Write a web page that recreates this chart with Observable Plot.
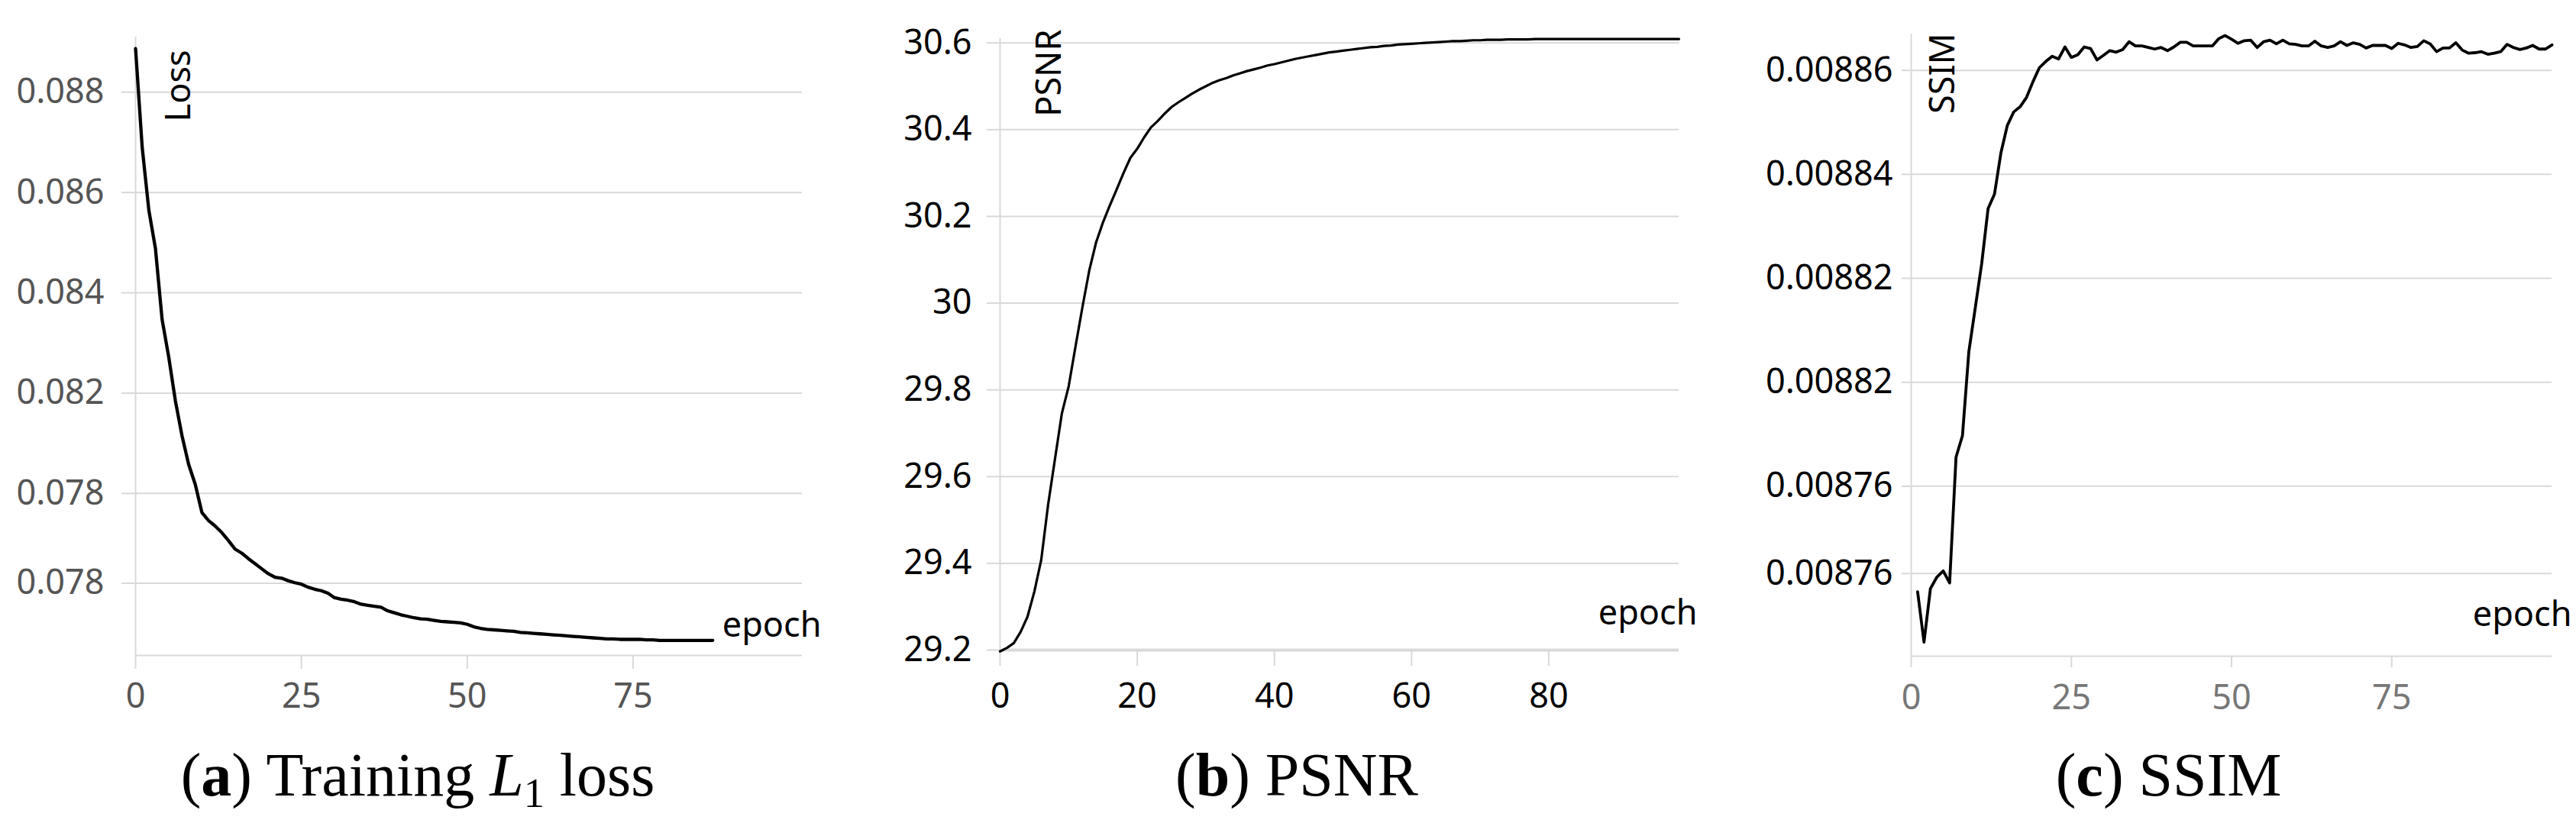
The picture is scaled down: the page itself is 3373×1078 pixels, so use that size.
<!DOCTYPE html>
<html>
<head>
<meta charset="utf-8">
<script src="https://cdn.jsdelivr.net/npm/d3@7"></script>
<script src="https://cdn.jsdelivr.net/npm/@observablehq/plot@0.6"></script>
<style>
html, body { margin: 0; padding: 0; background: #fff; }
#wrap { position: relative; width: 3373px; height: 1078px; overflow: hidden; background: #fff; }
.panel { position: absolute; top: 0; }
.panel svg { display: block; }
.cap { font-family: "Liberation Serif", "Times New Roman", serif; font-size: 80px; color: #000; text-align: center; white-space: nowrap; line-height: 78px; position: relative; margin-top: 16px; }
.cap sub { font-size: 0.68em; vertical-align: -0.28em; line-height: 0; }
</style>
</head>
<body>
<div id="wrap">
  <div class="panel" id="pa" style="left:0px;width:1124px"></div>
  <div class="panel" id="pb" style="left:1124px;width:1124px"></div>
  <div class="panel" id="pc" style="left:2248px;width:1125px"></div>
</div>
<script>
// ---------------- DATA ----------------
// (a) Training L1 loss, epochs 0..87
const lossValues = [
  0.08887, 0.08690, 0.08565, 0.08488, 0.08347, 0.08272, 0.08185, 0.08115, 0.08058, 0.08018,
  0.07962, 0.07946, 0.07935, 0.07922, 0.07906, 0.07889, 0.07881, 0.07870, 0.07860, 0.07850,
  0.07840, 0.07833, 0.07831, 0.07826, 0.07822, 0.07819, 0.07813, 0.07809, 0.07806, 0.07801,
  0.07792, 0.07789, 0.07787, 0.07784, 0.07779, 0.07777, 0.07775, 0.07773, 0.07766, 0.07762,
  0.07758, 0.07755, 0.07752, 0.07750, 0.07749, 0.07747, 0.07745, 0.07744, 0.07743, 0.07742,
  0.07739, 0.07734, 0.07731, 0.07729, 0.07728, 0.07727, 0.07726, 0.07725, 0.07723, 0.07722,
  0.07721, 0.07720, 0.07719, 0.07718, 0.07717, 0.07716, 0.07715, 0.07714, 0.07713, 0.07712,
  0.07711, 0.07710, 0.07710, 0.07709, 0.07709, 0.07709, 0.07709, 0.07708, 0.07708, 0.07707,
  0.07707, 0.07707, 0.07707, 0.07707, 0.07707, 0.07707, 0.07707, 0.07707
];
const lossFirstEpoch = 0;
const lossYTicks = [0.088, 0.086, 0.084, 0.082, 0.080, 0.07821];
const lossYTickLabels = ["0.088", "0.086", "0.084", "0.082", "0.078", "0.078"];
const lossXTicks = [0, 25, 50, 75];

// (b) PSNR, epochs 0..99
const psnrValues = [
  29.197, 29.205, 29.216, 29.242, 29.277, 29.335, 29.408, 29.535, 29.640, 29.745,
  29.808, 29.900, 29.990, 30.075, 30.140, 30.186, 30.225, 30.262, 30.300, 30.335,
  30.356, 30.382, 30.405, 30.420, 30.437, 30.452, 30.463, 30.473, 30.483, 30.492,
  30.500, 30.508, 30.514, 30.519, 30.525, 30.530, 30.535, 30.539, 30.543, 30.548,
  30.551, 30.555, 30.559, 30.563, 30.566, 30.569, 30.572, 30.575, 30.578, 30.580,
  30.582, 30.584, 30.586, 30.588, 30.590, 30.591, 30.593, 30.594, 30.596, 30.597,
  30.598, 30.599, 30.600, 30.601, 30.602, 30.603, 30.604, 30.604, 30.605, 30.606,
  30.606, 30.607, 30.607, 30.607, 30.608, 30.608, 30.608, 30.608, 30.609, 30.609,
  30.609, 30.609, 30.609, 30.609, 30.609, 30.609, 30.609, 30.609, 30.609, 30.609,
  30.609, 30.609, 30.609, 30.609, 30.609, 30.609, 30.609, 30.609, 30.609, 30.609
];
const psnrFirstEpoch = 0;
const psnrYTicks = [29.2, 29.4, 29.6, 29.8, 30, 30.2, 30.4, 30.6];
const psnrYTickLabels = ["29.2", "29.4", "29.6", "29.8", "30", "30.2", "30.4", "30.6"];
const psnrXTicks = [0, 20, 40, 60, 80];

// (c) SSIM, epochs 1..100
const ssimValues = [
  0.0087597, 0.0087500, 0.0087603, 0.0087625, 0.0087637, 0.0087614, 0.0087856, 0.0087897, 0.0088059, 0.0088143,
  0.0088228, 0.0088334, 0.0088362, 0.0088441, 0.0088494, 0.0088520, 0.0088530, 0.0088548, 0.0088578, 0.0088605,
  0.0088617, 0.0088627, 0.0088622, 0.0088645, 0.0088625, 0.0088630, 0.0088645, 0.0088642, 0.0088620, 0.0088629,
  0.0088638, 0.0088635, 0.0088640, 0.0088655, 0.0088647, 0.0088647, 0.0088644, 0.0088641, 0.0088644, 0.0088638,
  0.0088645, 0.0088654, 0.0088654, 0.0088647, 0.0088647, 0.0088647, 0.0088647, 0.0088661, 0.0088667, 0.0088660,
  0.0088652, 0.0088657, 0.0088658, 0.0088644, 0.0088655, 0.0088658, 0.0088651, 0.0088658, 0.0088651, 0.0088650,
  0.0088647, 0.0088647, 0.0088656, 0.0088647, 0.0088644, 0.0088647, 0.0088655, 0.0088648, 0.0088653, 0.0088650,
  0.0088643, 0.0088648, 0.0088648, 0.0088648, 0.0088642, 0.0088652, 0.0088649, 0.0088644, 0.0088646, 0.0088657,
  0.0088651, 0.0088636, 0.0088643, 0.0088643, 0.0088653, 0.0088639, 0.0088633, 0.0088634, 0.0088636, 0.0088631,
  0.0088633, 0.0088636, 0.0088650, 0.0088644, 0.0088640, 0.0088643, 0.0088648, 0.0088641, 0.0088641, 0.0088649
];
const ssimFirstEpoch = 1;
const ssimYTicks = [0.00886, 0.00884, 0.00882, 0.00880, 0.00878, 0.0087632];
const ssimYTickLabels = ["0.00886", "0.00884", "0.00882", "0.00882", "0.00876", "0.00876"];
const ssimXTicks = [0, 25, 50, 75];

// ---------------- DRAWING ----------------
const GRID = "#d9d9d9";
const H = 960;

function toRows(values, first) {
  return values.map((v, i) => ({ epoch: first + i, value: v }));
}

function panel(cfg) {
  const labelMap = new Map(cfg.yTicks.map((t, i) => [t, cfg.yTickLabels[i]]));
  return Plot.plot({
    width: cfg.width,
    height: H,
    marginLeft: cfg.ml,
    marginRight: cfg.mr,
    marginTop: cfg.mt,
    marginBottom: H - cfg.axisPos,
    x: { domain: cfg.xDomain },
    y: { domain: cfg.yDomain },
    style: { fontFamily: '"Noto Sans", sans-serif', fontSize: "45px", background: "transparent", overflow: "visible" },
    marks: [
      Plot.gridY(cfg.yTicks, { stroke: GRID, strokeOpacity: 1, strokeWidth: 2 }),
      Plot.axisY(cfg.yTicks, {
        tickSize: cfg.yTickSize, tickPadding: cfg.yTickPad,
        stroke: GRID, strokeWidth: 2, fill: cfg.yColor,
        tickFormat: d => labelMap.get(d), label: null
      }),
      Plot.ruleX([cfg.xDomain[0]], { stroke: GRID, strokeWidth: 2 }),
      Plot.ruleY([cfg.yDomain[0]], { stroke: GRID, strokeWidth: cfg.xAxisWidth }),
      Plot.axisX(cfg.xTicks, {
        tickSize: cfg.xTickSize, tickPadding: cfg.xTickPad,
        stroke: GRID, strokeWidth: 2, fill: cfg.xColor,
        tickFormat: d => String(d), label: null
      }),
      Plot.line(cfg.data, { x: "epoch", y: "value", stroke: "#000", strokeWidth: cfg.lw, strokeLinejoin: "round" }),
      Plot.text([cfg.yLabel], {
        text: d => d, frameAnchor: "top-left", rotate: -90, textAnchor: "end", lineAnchor: "top",
        dx: cfg.yLabelDx, dy: cfg.yLabelDy, fill: "#000", fontSize: 45
      }),
      Plot.text(["epoch"], {
        text: d => d, frameAnchor: "bottom-right", textAnchor: "end", lineAnchor: "middle",
        dx: cfg.xLabelDx, dy: cfg.xLabelDy, fill: "#000", fontSize: 45
      })
    ]
  });
}

function addCaption(el, html, shift) {
  const c = document.createElement("div");
  c.className = "cap";
  c.style.left = shift + "px";
  c.innerHTML = html;
  el.appendChild(c);
}

const pa = document.getElementById("pa");
pa.appendChild(panel({
  width: 1124, ml: 177, mr: 74, mt: 48, axisPos: 858,
  xDomain: [0, 100.5], yDomain: [0.07677, 0.0891],
  yTicks: lossYTicks, yTickLabels: lossYTickLabels, yTickSize: 18, yTickPad: 23, yColor: "#555",
  xTicks: lossXTicks, xTickSize: 18, xTickPad: 19, xColor: "#555", xAxisWidth: 2,
  data: toRows(lossValues, lossFirstEpoch), lw: 4.3,
  yLabel: "Loss", yLabelDx: 40, yLabelDy: 17, xLabelDx: 25, xLabelDy: -39
}));
addCaption(pa, "(<b>a</b>) Training <i>L</i><sub>1</sub> loss", -15);

const pb = document.getElementById("pb");
pb.appendChild(panel({
  width: 1124, ml: 185, mr: 50, mt: 50, axisPos: 851,
  xDomain: [0, 99], yDomain: [29.2, 30.61],
  yTicks: psnrYTicks, yTickLabels: psnrYTickLabels, yTickSize: 17, yTickPad: 20, yColor: "#000",
  xTicks: psnrXTicks, xTickSize: 21, xTickPad: 23, xColor: "#000", xAxisWidth: 4,
  data: toRows(psnrValues, psnrFirstEpoch), lw: 3.2,
  yLabel: "PSNR", yLabelDx: 48, yLabelDy: -12, xLabelDx: 24, xLabelDy: -48
}));
addCaption(pb, "(<b>b</b>) PSNR", 12);

const pc = document.getElementById("pc");
pc.appendChild(panel({
  width: 1125, ml: 254, mr: 32, mt: 44, axisPos: 859,
  xDomain: [0, 100], yDomain: [0.0087473, 0.0088670],
  yTicks: ssimYTicks, yTickLabels: ssimYTickLabels, yTickSize: 12, yTickPad: 12, yColor: "#000",
  xTicks: ssimXTicks, xTickSize: 15, xTickPad: 23, xColor: "#777", xAxisWidth: 2,
  data: toRows(ssimValues, ssimFirstEpoch), lw: 3.8,
  yLabel: "SSIM", yLabelDx: 25, yLabelDy: -1, xLabelDx: 26, xLabelDy: -54
}));
addCaption(pc, "(<b>c</b>) SSIM", 29);
</script>
</body>
</html>
